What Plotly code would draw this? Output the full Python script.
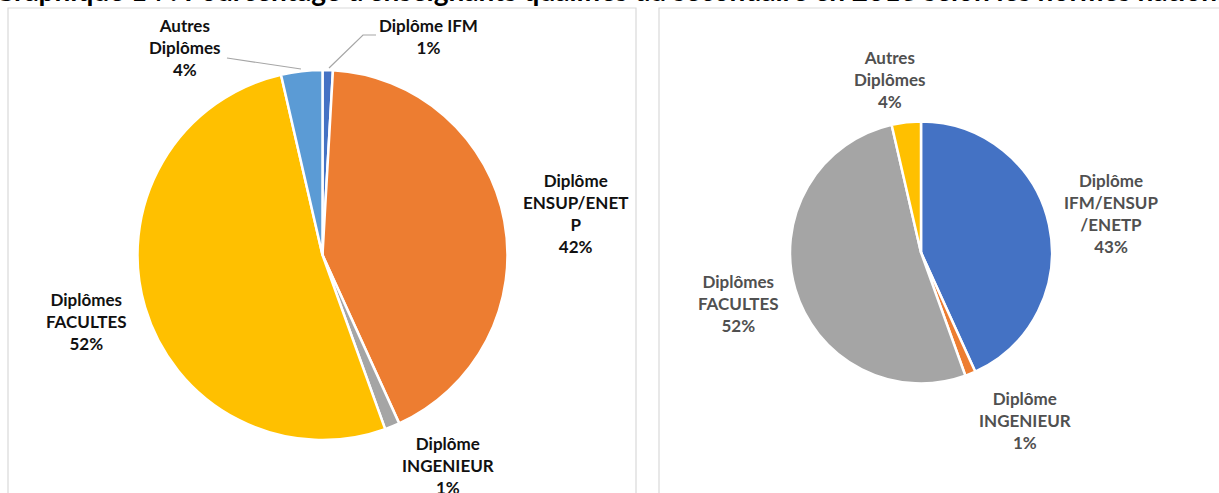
import plotly.graph_objects as go

W, H = 1219, 493

title_text = "Graphique 14 : Pourcentage d'enseignants qualifiés du secondaire en 2013 selon les normes nationales"

# Left chart
left_labels = ["Diplôme IFM", "Diplôme ENSUP/ENETP", "Diplôme INGENIEUR", "Diplômes FACULTES", "Autres Diplômes"]
left_display = ["Diplôme IFM", "Diplôme<br>ENSUP/ENET<br>P", "Diplôme<br>INGENIEUR", "Diplômes<br>FACULTES", "Autres<br>Diplômes"]
left_values = [0.9, 42.3, 1.3, 51.9, 3.6]
left_colors = ["#4472C4", "#ED7D31", "#A5A5A5", "#FFC000", "#5B9BD5"]

# Right chart
right_labels = ["Diplôme IFM/ENSUP/ENETP", "Diplôme INGENIEUR", "Diplômes FACULTES", "Autres Diplômes"]
right_display = ["Diplôme<br>IFM/ENSUP<br>/ENETP", "Diplôme<br>INGENIEUR", "Diplômes<br>FACULTES", "Autres<br>Diplômes"]
right_values = [43.2, 1.3, 51.9, 3.6]
right_colors = ["#4472C4", "#ED7D31", "#A5A5A5", "#FFC000"]

FONT = "Lato"


def px_x(x):
    return x / W


def px_y(y):
    return 1 - y / H


def pie_domain(cx, cy, r):
    return dict(x=[px_x(cx - r), px_x(cx + r)], y=[px_y(cy + r), px_y(cy - r)])


fig = go.Figure()
fig.add_trace(go.Pie(
    labels=left_labels, values=left_values, sort=False, direction="clockwise", rotation=0,
    marker=dict(colors=left_colors, line=dict(color="white", width=2.5)),
    textinfo="none", hoverinfo="label+percent", showlegend=False,
    domain=pie_domain(322.5, 255, 185),
))
fig.add_trace(go.Pie(
    labels=right_labels, values=right_values, sort=False, direction="clockwise", rotation=0,
    marker=dict(colors=right_colors, line=dict(color="white", width=2.5)),
    textinfo="none", hoverinfo="label+percent", showlegend=False,
    domain=pie_domain(921, 252.5, 131),
))


def pct(values, i):
    return f"{round(values[i] / sum(values) * 100)}%"


annotations = []
# label center positions (pixels) for left chart
left_pos = [(428, 36), (575, 213), (448, 465), (86, 321), (185, 47)]
for i, (x, y) in enumerate(left_pos):
    annotations.append(dict(
        x=px_x(x), y=px_y(y), xref="paper", yref="paper", showarrow=False,
        xanchor="center", yanchor="middle", align="center",
        text=f"<b>{left_display[i]}<br>{pct(left_values, i)}</b>",
        font=dict(family=FONT, size=17, color="#111111"),
    ))
right_pos = [(1111, 214), (1025, 420), (739, 303), (890, 79)]
for i, (x, y) in enumerate(right_pos):
    annotations.append(dict(
        x=px_x(x), y=px_y(y), xref="paper", yref="paper", showarrow=False,
        xanchor="center", yanchor="middle", align="center",
        text=f"<b>{right_display[i]}<br>{pct(right_values, i)}</b>",
        font=dict(family=FONT, size=17, color="#505050"),
    ))
# Title (cut off at the top of the page)
annotations.append(dict(
    x=px_x(-8), y=px_y(-10), xref="paper", yref="paper", showarrow=False,
    xanchor="left", yanchor="middle", align="left",
    text=f"<b>{title_text}</b>",
    font=dict(family=FONT, size=28, color="#000000"),
))

shapes = [
    # panel borders
    dict(type="rect", xref="paper", yref="paper", x0=px_x(8), x1=px_x(636), y0=px_y(505), y1=px_y(8),
         line=dict(color="#D9D9D9", width=1.2), fillcolor="rgba(0,0,0,0)", layer="below"),
    dict(type="rect", xref="paper", yref="paper", x0=px_x(659), x1=px_x(1230), y0=px_y(505), y1=px_y(8),
         line=dict(color="#D9D9D9", width=1.2), fillcolor="rgba(0,0,0,0)", layer="below"),
    # leader lines
    dict(type="path", xref="paper", yref="paper",
         path=f"M {px_x(329)} {px_y(68)} L {px_x(363)} {px_y(35)} L {px_x(376)} {px_y(35)}",
         line=dict(color="#A6A6A6", width=1.2)),
    dict(type="line", xref="paper", yref="paper", x0=px_x(301), y0=px_y(69), x1=px_x(227), y1=px_y(58),
         line=dict(color="#A6A6A6", width=1.2)),
]

fig.update_layout(
    width=W, height=H, margin=dict(l=0, r=0, t=0, b=0),
    paper_bgcolor="white", plot_bgcolor="white",
    annotations=annotations, shapes=shapes,
)

fig.write_html("out.html", config={"displayModeBar": False},
               post_script="document.body.style.margin='0';document.body.style.overflow='hidden';")
